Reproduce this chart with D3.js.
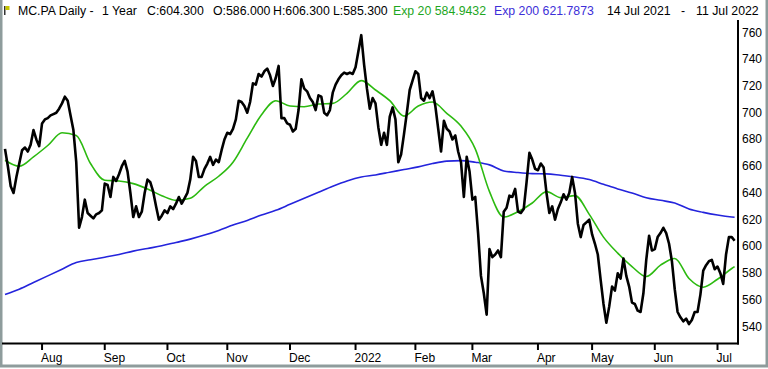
<!DOCTYPE html>
<html>
<head>
<meta charset="utf-8">
<script src="https://cdn.jsdelivr.net/npm/d3@7"></script>
<style>
  body { margin: 0; background: #fff; }
  svg { display: block; font-family: "Liberation Sans", Arial, sans-serif; }
</style>
</head>
<body>
<div id="chart"></div>
<script>
/*
    MC.PA daily close with exponential moving averages
*/

// Daily closes, one per trading day from 14 Jul 2021 to 11 Jul 2022
var closes = [
    673, 660, 645, 640, 652, 662, 672, 674, 671, 676,
    687, 680, 675, 692, 695, 696, 698, 699, 700, 703,
    707, 712, 709, 698, 687, 663, 614, 622, 635, 625,
    623, 621, 624, 625, 627, 647, 646, 637, 652, 649,
    654, 660, 664, 656, 640, 622, 630, 622, 626, 640,
    650, 648, 641, 630, 620, 623, 627, 625, 630, 628,
    632, 637, 632, 636, 640, 650, 667, 664, 652, 652,
    658, 662, 667, 661, 665, 663, 672, 680, 685, 684,
    688, 695, 709, 708, 705, 700, 708, 722, 721, 729,
    727, 731, 733, 728, 720, 726, 735, 696, 696, 692,
    691, 686, 688, 702, 725, 718, 716, 711, 708, 702,
    713, 712, 700, 698, 702, 715, 721, 725, 728, 730,
    729, 730, 729, 734, 746, 758, 736, 718, 703, 711,
    707, 689, 676, 685, 676, 697, 704, 695, 663, 669,
    684, 700, 717, 724, 731, 729, 711, 709, 715, 711,
    716, 705, 688, 671, 694, 688, 686, 680, 683, 671,
    663, 637, 667, 656, 635, 637, 610, 578, 565, 549,
    598, 592, 594, 597, 592, 626, 629, 638, 637, 643,
    626, 625, 628, 648, 670, 665, 658, 657, 662, 659,
    640, 625, 630, 620, 628, 633, 639, 635, 640, 652,
    640, 617, 607, 616, 618, 620, 609, 602, 594, 575,
    557, 543, 555, 570, 567, 580, 576, 591, 578, 570,
    558, 557, 552, 551, 565, 590, 608, 597, 598, 607,
    610, 614, 610, 602, 589, 568, 551, 547, 544, 546,
    542, 545, 551, 551, 564, 582, 586, 589, 590, 583,
    585, 580, 572, 594, 607, 607, 604.3
];

// Moving averages read every 5th trading day, plus the last day
var emaStep = 5;
var ema20 = [
    664.5, 660, 667, 675.5, 685, 683, 662, 649.5, 649, 647,
    643, 638, 634.5, 636, 645, 652.5, 663, 681, 698.5, 709,
    705, 704.5, 706.5, 707, 714.5, 724, 717, 709, 697.5, 705,
    708, 699.6, 690, 673, 641, 622, 626, 632.5, 641, 636.5,
    638, 624, 607, 595, 585, 577.5, 586, 591, 576, 569.5,
    575.5, 583.5, 584.9432
];
var ema200 = [
    564, 568, 573, 578, 583, 588, 590, 592, 594, 596.5,
    598.5, 600.5, 603, 605.5, 608.5, 612, 616, 619.5, 623.5, 627,
    631.5, 636, 640.5, 645, 649, 652, 653.5, 655.5, 657.5, 659.5,
    662, 663.8, 664.2, 663, 661, 656.5, 655.3, 654.5, 654.3, 653.2,
    652, 650, 646.5, 643, 640, 636.5, 634.5, 632.5, 628, 625.5,
    623.5, 622, 621.7873
];

// Calendar
var firstDay = "2021-07-14";
var lastDay = "2022-07-11";
var holidays = ["2022-04-15", "2022-04-18"];

// Price axis ticks
var yTicks = [540, 560, 580, 600, 620, 640, 660, 680, 700, 720, 740, 760];

// Header texts
var headerTexts = ["MC.PA Daily -", "1 Year", "C:604.300", "O:586.000", "H:606.300", "L:585.300",
    "Exp 20 584.9432", "Exp 200 621.7873", "14 Jul 2021", "-", "11 Jul 2022"];
var headerColors = ["#000", "#000", "#000", "#000", "#000", "#000", "#1ea61e", "#3d2fd8", "#000", "#000", "#000"];
var headerX = [18, 102, 147, 213, 273, 333, 393, 494, 607, 681, 696];

var width = 768;
var height = 369;

var svg = d3.select("#chart").append("svg")
    .attr("width", width)
    .attr("height", height);

// Build the list of trading days
var parse = d3.timeParse("%Y-%m-%d");
var fmt = d3.timeFormat("%Y-%m-%d");
var days = d3.timeDay.range(parse(firstDay), d3.timeDay.offset(parse(lastDay), 1))
    .filter(function(d) {
        return d.getDay() !== 0 && d.getDay() !== 6 && holidays.indexOf(fmt(d)) < 0;
    });

// Scales: x is by trading-day index
var x = d3.scaleLinear().domain([0, closes.length - 1]).range([5, 734.6]);
var y = d3.scaleLinear().domain([540, 760]).range([326.7, 32.5]);

// Window frame
svg.append("rect")
    .attr("x", 1).attr("y", -2)
    .attr("width", width - 2).attr("height", height - 1)
    .attr("fill", "none")
    .attr("stroke", "#8e9c9c")
    .attr("stroke-width", 3);

// Header
var flag = svg.append("g");
flag.append("rect").attr("x", 4).attr("y", 6).attr("width", 1.5).attr("height", 9).attr("fill", "#333");
flag.append("rect").attr("x", 5.5).attr("y", 6).attr("width", 4).attr("height", 4).attr("fill", "#c6c400");

svg.selectAll(".header")
    .data(headerTexts)
    .enter().append("text")
    .attr("class", "header")
    .attr("x", function(d, i) { return headerX[i]; })
    .attr("y", 15)
    .attr("font-size", "12.3px")
    .attr("fill", function(d, i) { return headerColors[i]; })
    .text(function(d) { return d; });

// Lines
var emaLine = d3.line()
    .x(function(d, i) { return x(Math.min(i * emaStep, closes.length - 1)); })
    .y(function(d) { return y(d); })
    .curve(d3.curveMonotoneX);

svg.append("path")
    .datum(ema200)
    .attr("d", emaLine)
    .attr("fill", "none")
    .attr("stroke", "#2424dc")
    .attr("stroke-width", 1.6);

svg.append("path")
    .datum(ema20)
    .attr("d", emaLine)
    .attr("fill", "none")
    .attr("stroke", "#2cba10")
    .attr("stroke-width", 1.6);

var closeLine = d3.line()
    .x(function(d, i) { return x(i); })
    .y(function(d) { return y(d); });

svg.append("path")
    .datum(closes)
    .attr("d", closeLine)
    .attr("fill", "none")
    .attr("stroke", "#000")
    .attr("stroke-width", 2.6)
    .attr("stroke-linejoin", "round");

// Axis lines
svg.append("line")
    .attr("x1", 2).attr("x2", 739)
    .attr("y1", 343.5).attr("y2", 343.5)
    .attr("stroke", "#000").attr("stroke-width", 2);
svg.append("line")
    .attr("x1", 738).attr("x2", 738)
    .attr("y1", 20).attr("y2", 344.5)
    .attr("stroke", "#000").attr("stroke-width", 2);

// Month ticks at the first trading day of each month
var monthStarts = [];
days.forEach(function(d, i) {
    if (i > 0 && d.getMonth() !== days[i - 1].getMonth()) monthStarts.push(i);
});
var monthFmt = d3.timeFormat("%b");
var yearFmt = d3.timeFormat("%Y");

svg.selectAll(".xtick")
    .data(monthStarts)
    .enter().append("line")
    .attr("class", "xtick")
    .attr("x1", function(d) { return x(d); })
    .attr("x2", function(d) { return x(d); })
    .attr("y1", 343).attr("y2", 350)
    .attr("stroke", "#000").attr("stroke-width", 2);

svg.selectAll(".xlabel")
    .data(monthStarts)
    .enter().append("text")
    .attr("class", "xlabel")
    .attr("x", function(d) { return x(d) - 1; })
    .attr("y", 362)
    .attr("font-size", "12px")
    .attr("fill", "#000")
    .text(function(d) {
        return days[d].getMonth() === 0 ? yearFmt(days[d]) : monthFmt(days[d]);
    });

// Price labels on the right
svg.selectAll(".ylabel")
    .data(yTicks)
    .enter().append("text")
    .attr("class", "ylabel")
    .attr("x", 742)
    .attr("y", function(d) { return y(d) + 4; })
    .attr("font-size", "12px")
    .attr("fill", "#000")
    .text(function(d) { return d; });
</script>
</body>
</html>
